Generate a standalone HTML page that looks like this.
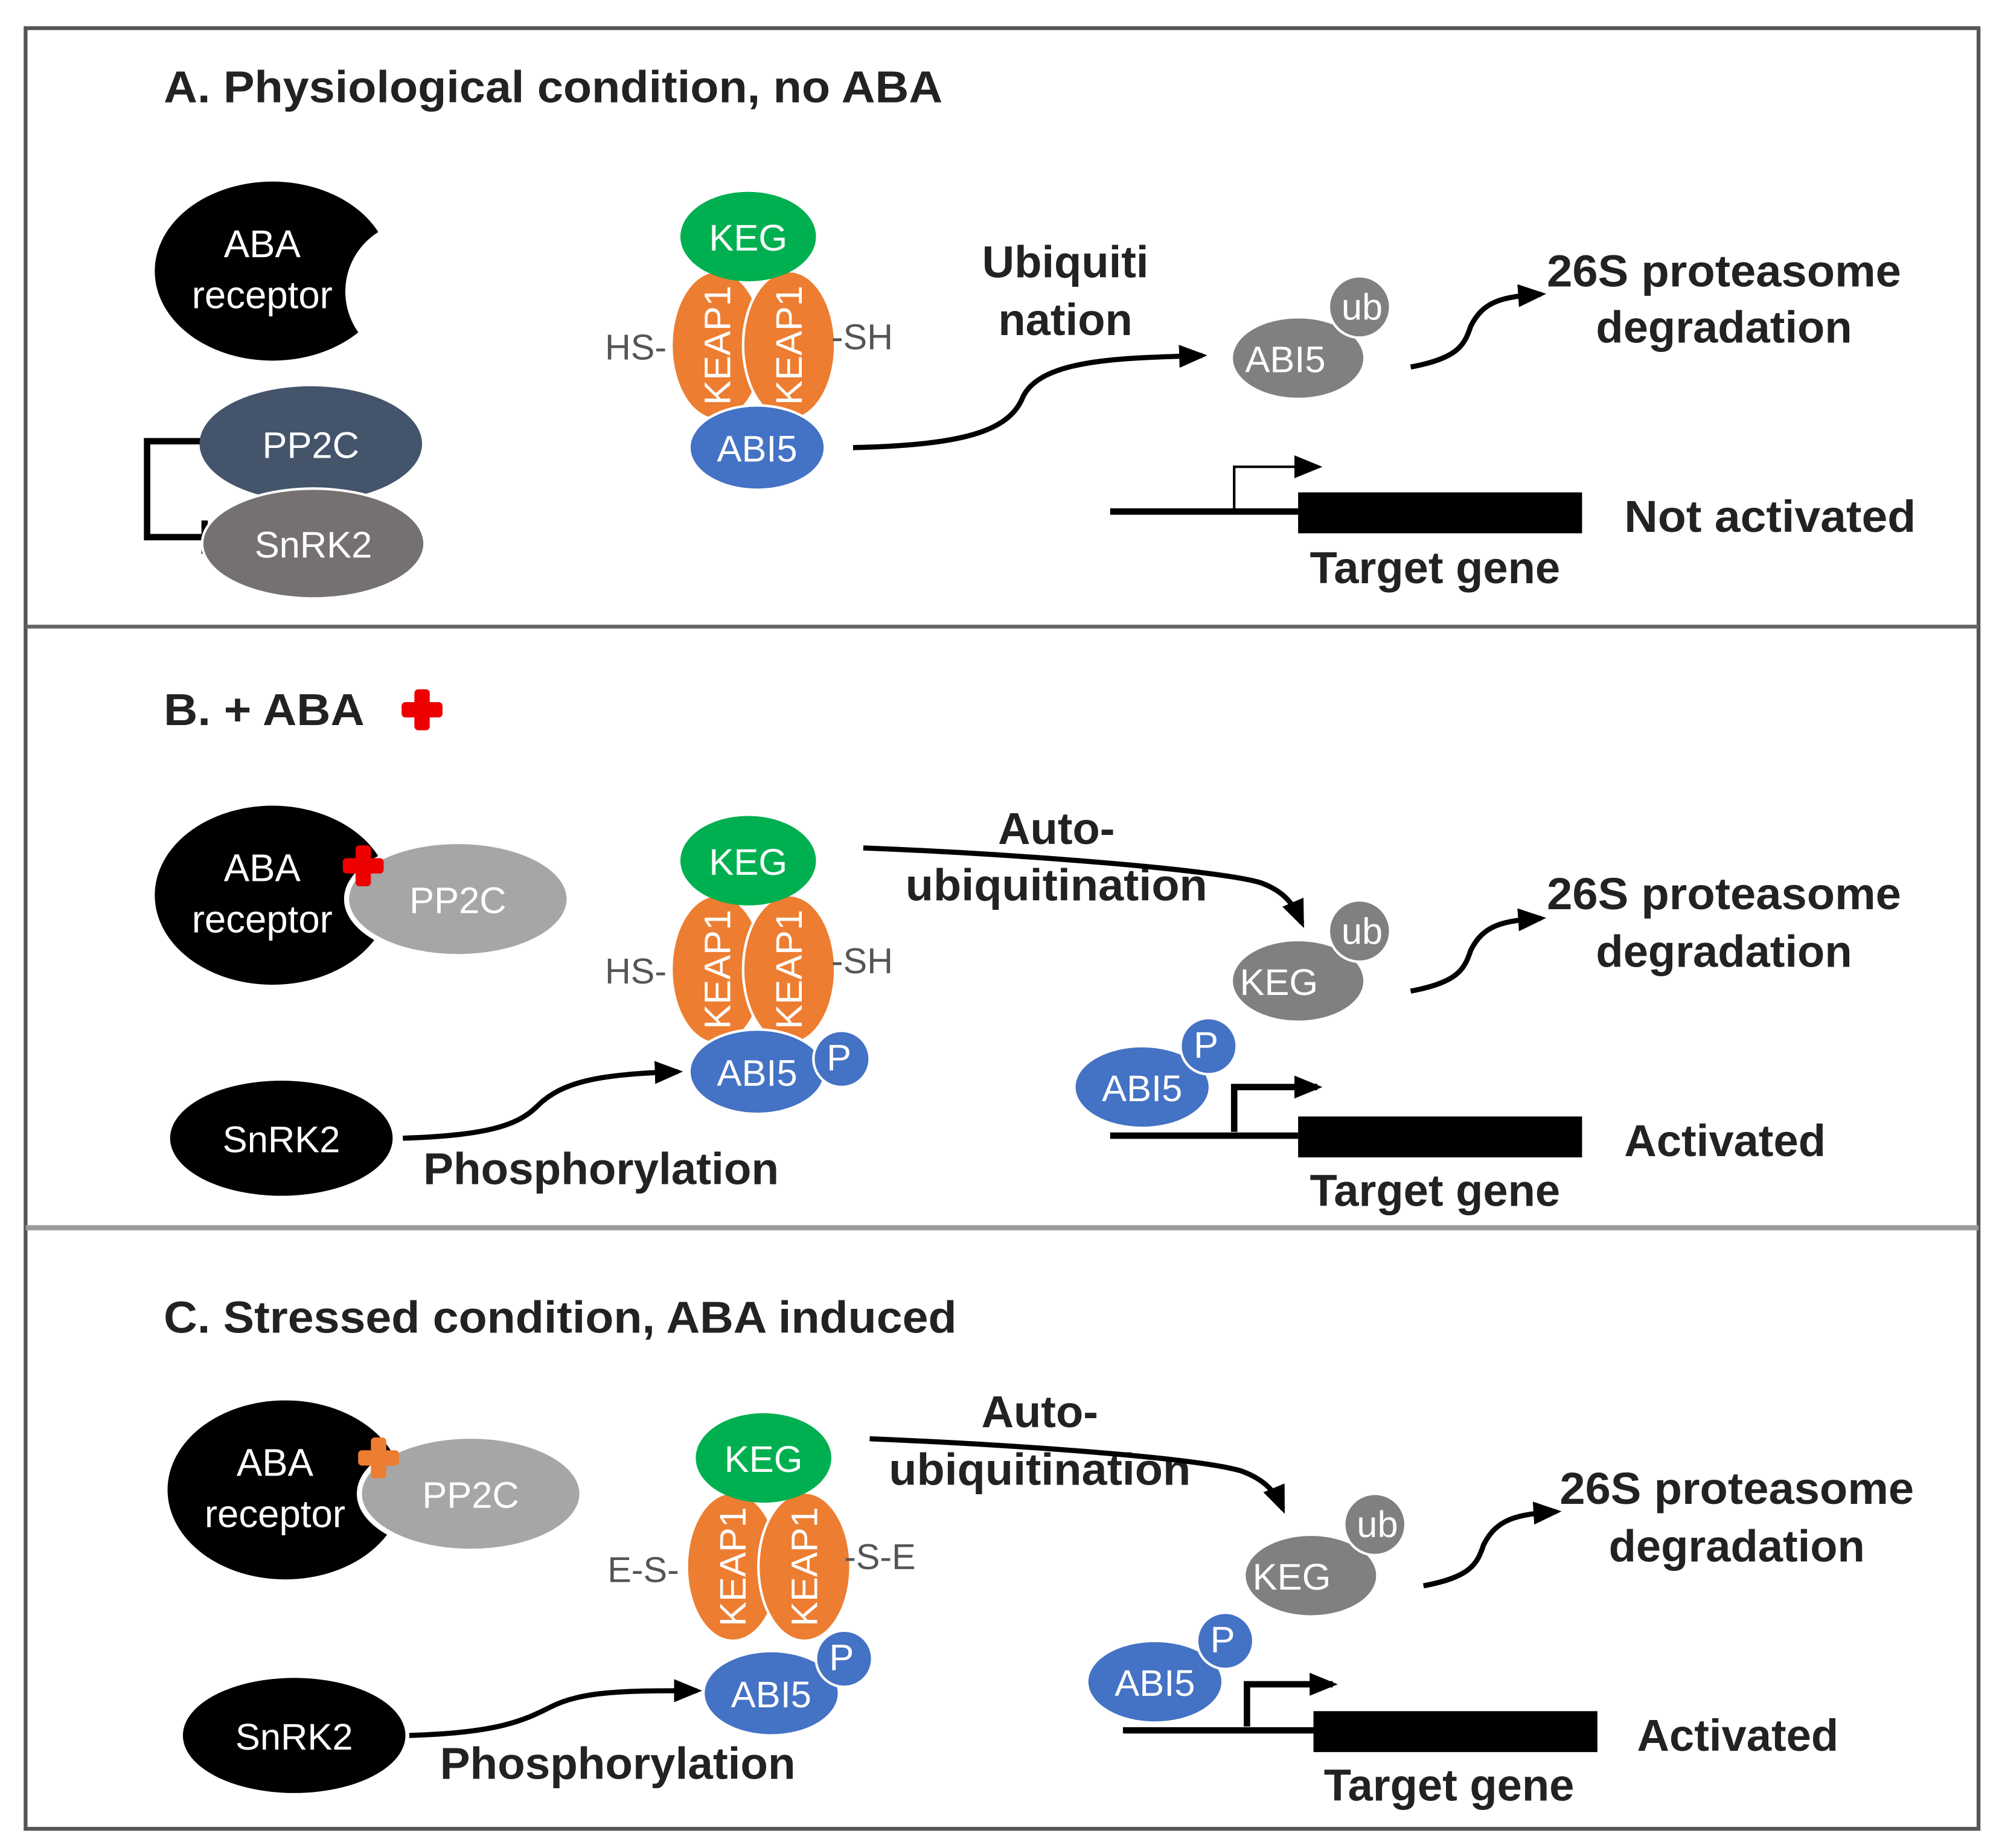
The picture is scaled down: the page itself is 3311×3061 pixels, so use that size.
<!DOCTYPE html>
<html><head><meta charset="utf-8"><style>html,body{margin:0;padding:0;background:#fff}svg{display:block}text{font-family:"Liberation Sans",sans-serif}</style></head>
<body>
<svg width="3311" height="3061" viewBox="0 0 1563 1445" xmlns="http://www.w3.org/2000/svg">
<defs>
<marker id="ah2" markerWidth="22" markerHeight="22" refX="18" refY="11" orient="auto" markerUnits="userSpaceOnUse" viewBox="0 0 22 22"><path d="M0,2 L22,11 L0,20 Z" fill="#000"/></marker>
<g id="cross"><rect x="-6" y="-16" width="12" height="32" rx="3"/><rect x="-16" y="-6" width="32" height="12" rx="3"/></g>
</defs>
<rect x="20" y="22" width="1527" height="1408" fill="none" stroke="#555" stroke-width="3"/>
<line x1="20" y1="490" x2="1547" y2="490" stroke="#666" stroke-width="3"/>
<line x1="20" y1="960" x2="1547" y2="960" stroke="#999" stroke-width="4"/>

<g font-size="35" font-weight="bold" fill="#222">
<text x="128" y="80" textLength="609" lengthAdjust="spacingAndGlyphs">A. Physiological condition, no ABA</text>
<text x="128" y="567" textLength="157" lengthAdjust="spacingAndGlyphs">B. + ABA</text>
<text x="128" y="1042" textLength="620" lengthAdjust="spacingAndGlyphs">C. Stressed condition, ABA induced</text>
</g>
<use href="#cross" x="330" y="555" fill="#e00"/>

<!-- Panel A -->
<ellipse cx="213" cy="212" rx="92" ry="70" fill="#000"/>
<circle cx="325" cy="228" r="55" fill="#fff"/>
<g fill="#fff" font-size="30" text-anchor="middle"><text x="205" y="201">ABA</text><text x="205" y="241">receptor</text></g>
<path d="M157,345 H115 V420 H160 M160,407 V433" fill="none" stroke="#000" stroke-width="5"/>
<ellipse cx="243" cy="347" rx="87" ry="45" fill="#44546a"/>
<ellipse cx="245" cy="425" rx="87" ry="43" fill="#767171" stroke="#fff" stroke-width="2"/>
<g fill="#fff" font-size="29" text-anchor="middle"><text x="243" y="358">PP2C</text><text x="245" y="436">SnRK2</text></g>

<g id="complexA">
<ellipse cx="561" cy="270" rx="36" ry="58" fill="#ed7d31" stroke="#fff" stroke-width="2"/>
<ellipse cx="617" cy="270" rx="36" ry="58" fill="#ed7d31" stroke="#fff" stroke-width="2"/>
<ellipse cx="585" cy="185" rx="53" ry="35" fill="#00b050"/>
<g fill="#fff" font-size="29" text-anchor="middle">
<text x="585" y="196">KEG</text>
<text transform="translate(571,270) rotate(-90)">KEAP1</text>
<text transform="translate(627,270) rotate(-90)">KEAP1</text>
</g>
</g>
<ellipse cx="592" cy="350" rx="53" ry="33" fill="#4472c4" stroke="#fff" stroke-width="2"/>
<text x="592" y="361" fill="#fff" font-size="29" text-anchor="middle">ABI5</text>
<g fill="#555" font-size="28"><text x="473" y="281">HS-</text><text x="650" y="273">-SH</text></g>

<g font-size="35" font-weight="bold" fill="#222" text-anchor="middle">
<text x="833" y="217">Ubiquiti</text><text x="833" y="262">nation</text>
</g>
<path d="M667,350 C760,348 790,335 800,310 C815,280 880,280 940,278" fill="none" stroke="#000" stroke-width="4" marker-end="url(#ah2)"/>
<ellipse cx="1015" cy="280" rx="52" ry="32" fill="#808080" stroke="#fff" stroke-width="2"/>
<circle cx="1063" cy="240" r="24" fill="#808080" stroke="#fff" stroke-width="2"/>
<g fill="#fff" font-size="29" text-anchor="middle"><text x="1005" y="291">ABI5</text><text x="1065" y="250">ub</text></g>
<path d="M1103,287 C1140,280 1145,270 1150,255 C1160,235 1175,232 1205,230" fill="none" stroke="#000" stroke-width="4" marker-end="url(#ah2)"/>
<g font-size="35" font-weight="bold" fill="#222" text-anchor="middle"><text x="1348" y="224" textLength="277" lengthAdjust="spacingAndGlyphs">26S proteasome</text><text x="1348" y="268">degradation</text></g>
<line x1="868" y1="400" x2="1015" y2="400" stroke="#000" stroke-width="5"/>
<rect x="1015" y="385" width="222" height="32" fill="#000"/>
<path d="M965,400 V365 H1030" fill="none" stroke="#000" stroke-width="2" marker-end="url(#ah2)"/>
<g font-size="35" font-weight="bold" fill="#222"><text x="1270" y="416" textLength="228" lengthAdjust="spacingAndGlyphs">Not activated</text><text x="1122" y="456" text-anchor="middle">Target gene</text></g>

<!-- Panel B -->
<ellipse cx="213" cy="700" rx="92" ry="70" fill="#000"/>
<ellipse cx="358" cy="703" rx="87" ry="45" fill="#a6a6a6" stroke="#fff" stroke-width="4"/>
<g fill="#fff" font-size="30" text-anchor="middle"><text x="205" y="689">ABA</text><text x="205" y="729">receptor</text><text x="358" y="714" font-size="29">PP2C</text></g>
<use href="#cross" x="284" y="677" fill="#e00"/>
<use href="#complexA" y="488"/>
<ellipse cx="592" cy="838" rx="53" ry="33" fill="#4472c4" stroke="#fff" stroke-width="2"/>
<circle cx="658" cy="828" r="22" fill="#4472c4" stroke="#fff" stroke-width="2"/>
<g fill="#fff" font-size="29" text-anchor="middle"><text x="592" y="849">ABI5</text><text x="656" y="837">P</text></g>
<g fill="#555" font-size="28"><text x="473" y="769">HS-</text><text x="650" y="761">-SH</text></g>
<ellipse cx="220" cy="890" rx="87" ry="45" fill="#000"/>
<text x="220" y="901" fill="#fff" font-size="29" text-anchor="middle">SnRK2</text>
<path d="M315,890 C380,888 405,880 420,865 C440,845 470,840 530,838" fill="none" stroke="#000" stroke-width="4" marker-end="url(#ah2)"/>
<g font-size="35" font-weight="bold" fill="#222" text-anchor="middle">
<text x="470" y="926" textLength="278" lengthAdjust="spacingAndGlyphs">Phosphorylation</text>
<text x="826" y="660">Auto-</text><text x="826" y="704" textLength="236" lengthAdjust="spacingAndGlyphs">ubiquitination</text>
</g>
<path d="M675,663 C800,668 950,680 985,690 C1005,697 1012,708 1018,722" fill="none" stroke="#000" stroke-width="4" marker-end="url(#ah2)"/>
<ellipse cx="1015" cy="767" rx="52" ry="32" fill="#808080" stroke="#fff" stroke-width="2"/>
<circle cx="1063" cy="728" r="24" fill="#808080" stroke="#fff" stroke-width="2"/>
<g fill="#fff" font-size="29" text-anchor="middle"><text x="1000" y="778">KEG</text><text x="1065" y="738">ub</text></g>
<path d="M1103,775 C1140,768 1145,758 1150,743 C1160,723 1175,720 1205,718" fill="none" stroke="#000" stroke-width="4" marker-end="url(#ah2)"/>
<g font-size="35" font-weight="bold" fill="#222" text-anchor="middle"><text x="1348" y="711" textLength="277" lengthAdjust="spacingAndGlyphs">26S proteasome</text><text x="1348" y="756">degradation</text></g>
<line x1="868" y1="888" x2="1015" y2="888" stroke="#000" stroke-width="5"/>
<rect x="1015" y="873" width="222" height="32" fill="#000"/>
<path d="M965,885 V850 H1030" fill="none" stroke="#000" stroke-width="5" marker-end="url(#ah2)"/>
<ellipse cx="893" cy="850" rx="53" ry="32" fill="#4472c4" stroke="#fff" stroke-width="2"/>
<circle cx="945" cy="818" r="22" fill="#4472c4" stroke="#fff" stroke-width="2"/>
<g fill="#fff" font-size="29" text-anchor="middle"><text x="893" y="861">ABI5</text><text x="943" y="827">P</text></g>
<g font-size="35" font-weight="bold" fill="#222"><text x="1270" y="904">Activated</text><text x="1122" y="943" text-anchor="middle">Target gene</text></g>

<!-- Panel C -->
<ellipse cx="223" cy="1165" rx="92" ry="70" fill="#000"/>
<ellipse cx="368" cy="1168" rx="87" ry="45" fill="#a6a6a6" stroke="#fff" stroke-width="4"/>
<g fill="#fff" font-size="30" text-anchor="middle"><text x="215" y="1154">ABA</text><text x="215" y="1194">receptor</text><text x="368" y="1179" font-size="29">PP2C</text></g>
<use href="#cross" x="296" y="1140" fill="#ed7d31"/>
<use href="#complexA" x="12" y="955"/>
<ellipse cx="603" cy="1324" rx="53" ry="33" fill="#4472c4" stroke="#fff" stroke-width="2"/>
<circle cx="660" cy="1297" r="22" fill="#4472c4" stroke="#fff" stroke-width="2"/>
<g fill="#fff" font-size="29" text-anchor="middle"><text x="603" y="1335">ABI5</text><text x="658" y="1306">P</text></g>
<g fill="#555" font-size="28"><text x="475" y="1237">E-S-</text><text x="660" y="1227">-S-E</text></g>
<ellipse cx="230" cy="1357" rx="87" ry="45" fill="#000"/>
<text x="230" y="1368" fill="#fff" font-size="29" text-anchor="middle">SnRK2</text>
<path d="M320,1357 C390,1355 410,1345 430,1335 C455,1322 490,1322 545,1322" fill="none" stroke="#000" stroke-width="4" marker-end="url(#ah2)"/>
<g font-size="35" font-weight="bold" fill="#222" text-anchor="middle">
<text x="483" y="1391" textLength="278" lengthAdjust="spacingAndGlyphs">Phosphorylation</text>
<text x="813" y="1116">Auto-</text><text x="813" y="1161" textLength="236" lengthAdjust="spacingAndGlyphs">ubiquitination</text>
</g>
<path d="M680,1125 C800,1130 935,1140 970,1150 C990,1157 998,1168 1003,1180" fill="none" stroke="#000" stroke-width="4" marker-end="url(#ah2)"/>
<ellipse cx="1025" cy="1232" rx="52" ry="32" fill="#808080" stroke="#fff" stroke-width="2"/>
<circle cx="1075" cy="1192" r="24" fill="#808080" stroke="#fff" stroke-width="2"/>
<g fill="#fff" font-size="29" text-anchor="middle"><text x="1010" y="1243">KEG</text><text x="1077" y="1202">ub</text></g>
<path d="M1113,1240 C1150,1233 1155,1223 1160,1208 C1170,1188 1185,1184 1217,1182" fill="none" stroke="#000" stroke-width="4" marker-end="url(#ah2)"/>
<g font-size="35" font-weight="bold" fill="#222" text-anchor="middle"><text x="1358" y="1176" textLength="277" lengthAdjust="spacingAndGlyphs">26S proteasome</text><text x="1358" y="1221">degradation</text></g>
<line x1="878" y1="1353" x2="1027" y2="1353" stroke="#000" stroke-width="5"/>
<rect x="1027" y="1338" width="222" height="32" fill="#000"/>
<path d="M975,1350 V1317 H1042" fill="none" stroke="#000" stroke-width="5" marker-end="url(#ah2)"/>
<ellipse cx="903" cy="1315" rx="53" ry="32" fill="#4472c4" stroke="#fff" stroke-width="2"/>
<circle cx="958" cy="1283" r="22" fill="#4472c4" stroke="#fff" stroke-width="2"/>
<g fill="#fff" font-size="29" text-anchor="middle"><text x="903" y="1326">ABI5</text><text x="956" y="1292">P</text></g>
<g font-size="35" font-weight="bold" fill="#222"><text x="1280" y="1369">Activated</text><text x="1133" y="1408" text-anchor="middle">Target gene</text></g>
</svg>
</body></html>
